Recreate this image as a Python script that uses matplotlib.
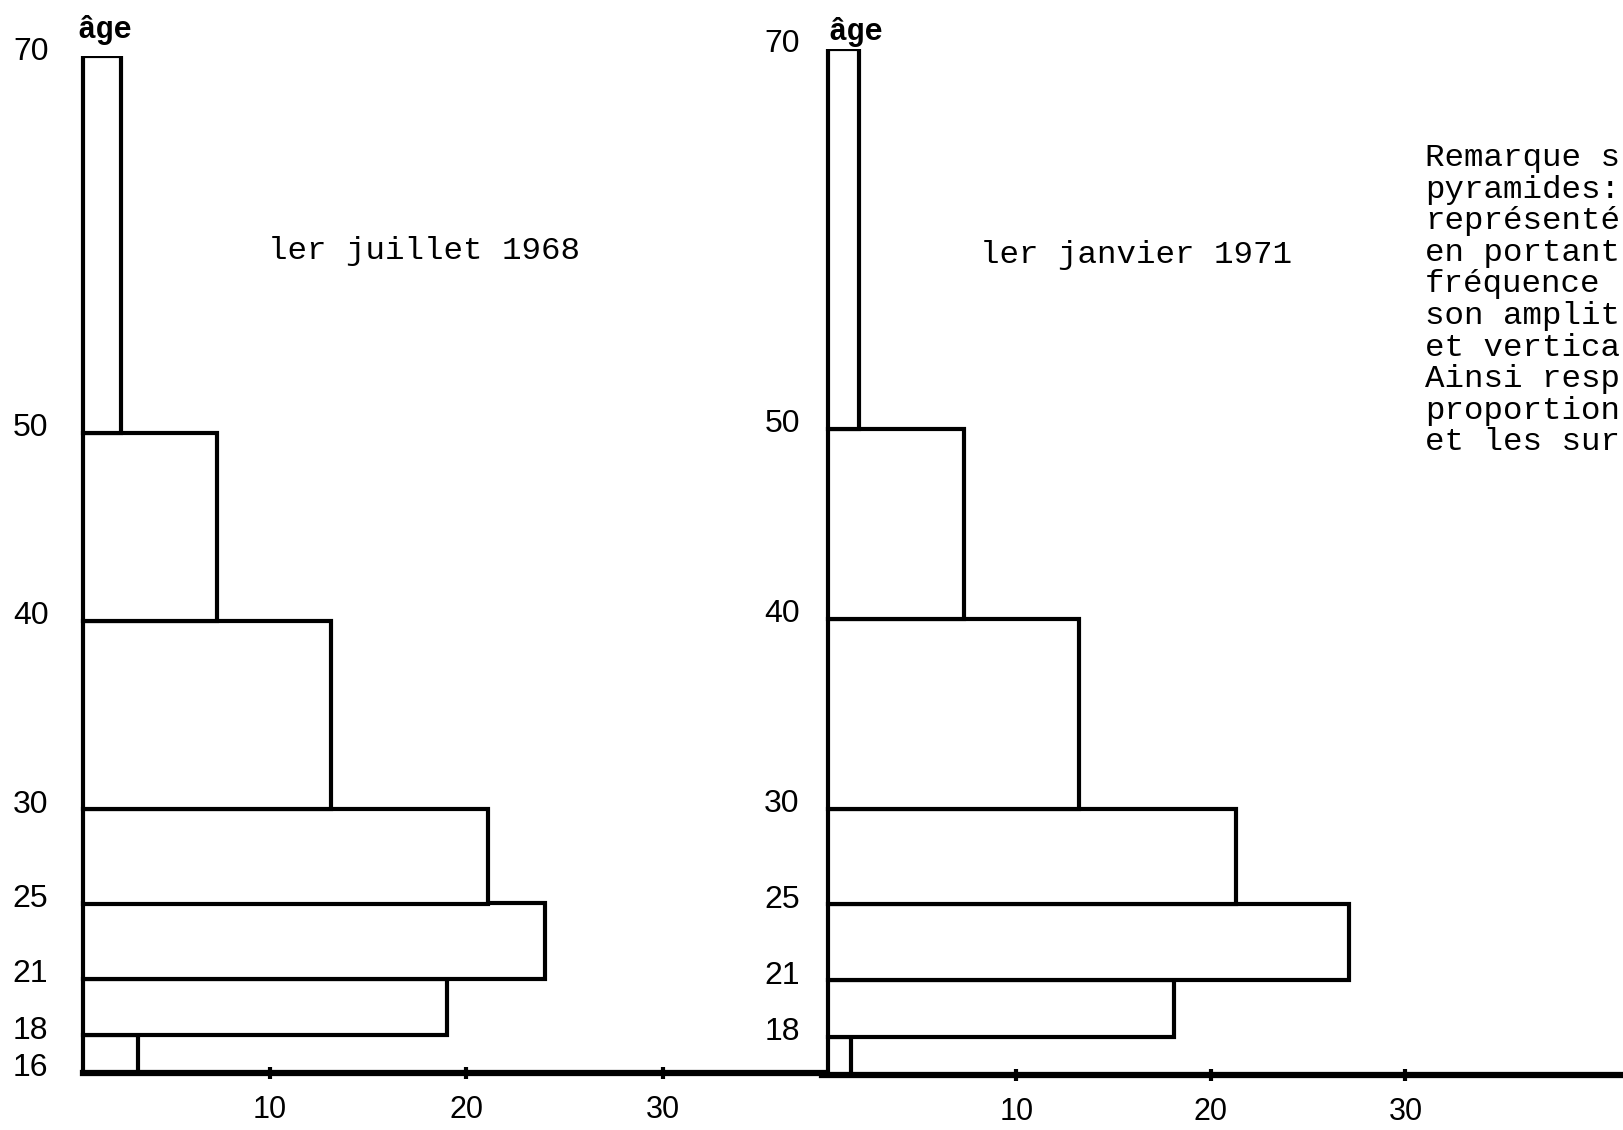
import matplotlib.pyplot as plt
import matplotlib.transforms as mtrans
import numpy as np

# age class boundaries and bar lengths (frequency per 5 years, %)
ages = [16, 18, 21, 25, 30, 40, 50, 70]
freq_1968 = [2.8, 18.5, 23.5, 20.6, 12.6, 6.8, 1.9]
freq_1971 = [1.2, 17.8, 26.8, 21.0, 12.9, 7.0, 1.6]
age_ticks_1968 = [16, 18, 21, 25, 30, 40, 50, 70]
age_ticks_1971 = [18, 21, 25, 30, 40, 50, 70]
freq_ticks = [10, 20, 30]
titles = ['ler juillet 1968', 'ler janvier 1971']
remarque = ['Remarque s', 'pyramides:', 'représenté', 'en portant',
            'fréquence', 'son amplit', 'et vertica', 'Ainsi resp',
            'proportion', 'et les sur']

W, H = 1624, 1130
typo = 'Liberation Mono'
digits = 'Liberation Sans'

fig = plt.figure(figsize=(W / 100, H / 100), dpi=100)
fig.patch.set_facecolor('white')


def px_axes(x0, x1, ytop, ybot):
    # axes rectangle given in pixel coordinates of the page
    return fig.add_axes([x0 / W, 1 - ybot / H, (x1 - x0) / W, (ybot - ytop) / H])


def pyramid(ax, freq, base, yticks, xmax, pad, spine_from):
    y = np.array(ages[:-1])
    h = np.diff(ages)
    ax.barh(y, freq, height=h, left=base, align='edge',
            color='white', edgecolor='black', linewidth=3.0, zorder=2)
    ax.set_xlim(0, xmax)
    ax.set_ylim(ages[0], ages[-1])
    ax.patch.set_alpha(0)
    for s in ['top', 'right', 'left']:
        ax.spines[s].set_visible(False)
    ax.spines['bottom'].set_linewidth(4.5)
    ax.spines['bottom'].set_bounds(spine_from, xmax)
    ax.spines['bottom'].set_zorder(3)
    ax.set_xticks(freq_ticks)
    ax.set_xticklabels([str(t) for t in freq_ticks], fontfamily=digits, fontsize=22)
    ax.tick_params(axis='x', direction='inout', length=9, width=3, pad=11)
    ax.set_yticks(yticks)
    ax.set_yticklabels([str(t) for t in yticks], fontfamily=digits, fontsize=23)
    ax.tick_params(axis='y', length=0, pad=pad)
    # labels sit a little above their boundary, as on the typed page
    up = mtrans.ScaledTranslation(0, 0.08, fig.dpi_scale_trans)
    for lab in ax.get_yticklabels():
        lab.set_transform(lab.get_transform() + up)


ax1 = px_axes(73.5, 823, 56, 1073)
pyramid(ax1, freq_1968, 0.5, age_ticks_1968, 749.5 / 19.65, 18, 0.5)

ax2 = px_axes(822, W, 49, 1075)
pyramid(ax2, freq_1971, 0.3, age_ticks_1971, 802 / 19.45, 16, 0)

# typed annotations
fig.text(105 / W, 1 - 30 / H, 'âge', fontfamily=typo, fontsize=22,
         fontweight='bold', ha='center', va='center')
fig.text(856 / W, 1 - 32 / H, 'âge', fontfamily=typo, fontsize=22,
         fontweight='bold', ha='center', va='center')
fig.text(268 / W, 1 - 251 / H, titles[0], fontfamily=typo, fontsize=23.4,
         ha='left', va='center')
fig.text(980 / W, 1 - 255 / H, titles[1], fontfamily=typo, fontsize=23.4,
         ha='left', va='center')

# note on the right margin, kept just inside the page edge
for i, line in enumerate(remarque):
    fig.text(1425 / W, 1 - (158 + i * 31.6) / H, line, fontfamily=typo,
             fontsize=23.4, ha='left', va='center')

plt.savefig('out.png', dpi=100, facecolor='white')
